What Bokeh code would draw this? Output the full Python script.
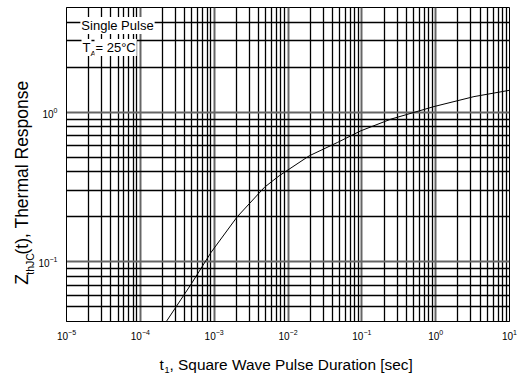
import math
from bokeh.plotting import figure
from bokeh.layouts import column, row
from bokeh.models import FixedTicker, Label, LogTickFormatter
from bokeh.core.properties import value
from bokeh.embed import file_html
from bokeh.resources import INLINE

# Data (single pulse thermal response)
t_sec = [2.25e-4, 4.9e-4, 9.1e-4, 2.05e-3, 4.8e-3, 7.6e-3, 1.94e-2, 4.69e-2,
         9.7e-2, 2.47e-1, 9.5e-1, 3.3, 10.0]
z_th = [0.040, 0.0713, 0.116, 0.200, 0.315, 0.376, 0.511, 0.628,
        0.751, 0.898, 1.09, 1.27, 1.40]

x_exponents = [-5, -4, -3, -2, -1, 0, 1]
y_exponents = [-1, 0]
x_lo, x_hi = 1e-5, 10.0
y_lo, y_hi = 0.04, 5.0

FONT = "Liberation Sans"
LEFT_W = 35
MAIN_H = 342
BOTTOM_H = 37
TOTAL_W = 517

p = figure(width=TOTAL_W - LEFT_W, height=MAIN_H, x_axis_type="log", y_axis_type="log",
           x_range=(x_lo, x_hi), y_range=(y_lo, y_hi),
           output_backend="svg", toolbar_location=None,
           min_border_left=30, min_border_right=8, min_border_top=7,
           min_border_bottom=19)

x_major = [10.0 ** e for e in x_exponents]
x_minor = [m * 10.0 ** e for e in range(-5, 1) for m in range(2, 10)]
y_major = [10.0 ** e for e in y_exponents]
y_minor = [v for v in (m * 10.0 ** e for e in range(-2, 1) for m in range(2, 10))
           if y_lo <= v <= y_hi]

xt = FixedTicker(ticks=x_major, minor_ticks=x_minor)
yt = FixedTicker(ticks=y_major, minor_ticks=y_minor)
p.xaxis.ticker = xt
p.yaxis.ticker = yt
p.xgrid.ticker = xt
p.ygrid.ticker = yt

for g in (p.xgrid, p.ygrid):
    g.grid_line_color = "#666666"
    g.grid_line_width = 2
    g.minor_grid_line_color = "black"
    g.minor_grid_line_width = 1.3

p.outline_line_color = "black"
p.outline_line_width = 1

for ax in (p.xaxis, p.yaxis):
    ax.major_tick_line_color = None
    ax.minor_tick_line_color = None
    ax.major_tick_out = 0
    ax.major_tick_in = 0
    ax.minor_tick_out = 0
    ax.minor_tick_in = 0
    ax.axis_line_color = "black"
    ax.major_label_text_font = FONT
    ax.major_label_text_font_size = "10px"
    ax.major_label_text_color = "black"
    ax.formatter = LogTickFormatter()
p.xaxis.major_label_standoff = 7
p.yaxis.major_label_standoff = 9

p.line(t_sec, z_th, line_color="black", line_width=1)

def lab(x, y, text, size, **kw):
    p.add_layout(Label(x=x, y=y, x_units="screen", y_units="screen", text=text,
                       text_font=FONT, text_font_size=size, text_color="black", **kw))

# annotation boxes (screen units: relative to the plot frame)
lab(51, 296, "Single Pulse", "13px", text_align="center", text_baseline="middle",
    background_fill_color="white", padding=1)
lab(15, 274, "T", "13px", text_align="left", text_baseline="middle",
    background_fill_color="white", padding=1)
lab(24, 268, "A", "8px", text_align="left", text_baseline="middle")
lab(28, 274, "= 25°C", "13px", text_align="left", text_baseline="middle",
    background_fill_color="white", padding=1)


def blank(w, h):
    f = figure(width=w, height=h, x_range=(0, w), y_range=(0, h),
               output_backend="svg", toolbar_location=None,
               x_axis_location=None, y_axis_location=None,
               min_border=0, min_border_left=0, min_border_right=0,
               min_border_top=0, min_border_bottom=0)
    f.grid.visible = False
    f.outline_line_color = None
    return f

# y axis label strip (left)
left = blank(LEFT_W, MAIN_H)
ang = math.pi / 2
left.text(x=[21], y=[MAIN_H - 302], text=["Z"], angle=ang,
          text_font=value(FONT), text_font_size=value("17.5px"),
          text_align="left", text_baseline="middle", text_color="black")
left.text(x=[29], y=[MAIN_H - 291], text=["thJC"], angle=ang,
          text_font=value(FONT), text_font_size=value("10.5px"),
          text_align="left", text_baseline="middle", text_color="black")
left.text(x=[21], y=[MAIN_H - 269], text=["(t), Thermal Response"], angle=ang,
          text_font=value(FONT), text_font_size=value("17.5px"),
          text_align="left", text_baseline="middle", text_color="black")

# x axis label strip (bottom)
bottom = blank(TOTAL_W, BOTTOM_H)
page_h = MAIN_H + BOTTOM_H
bottom.text(x=[159], y=[page_h - 364], text=["t"],
            text_font=value(FONT), text_font_size=value("15.4px"),
            text_align="left", text_baseline="middle", text_color="black")
bottom.text(x=[164], y=[page_h - 369], text=["1"],
            text_font=value(FONT), text_font_size=value("9px"),
            text_align="left", text_baseline="middle", text_color="black")
bottom.text(x=[169], y=[page_h - 364], text=[", Square Wave Pulse Duration [sec]"],
            text_font=value(FONT), text_font_size=value("15.4px"),
            text_align="left", text_baseline="middle", text_color="black")

layout = column(row(left, p, spacing=0), bottom, spacing=0)

open("out.html", "w").write(file_html(layout, INLINE))
